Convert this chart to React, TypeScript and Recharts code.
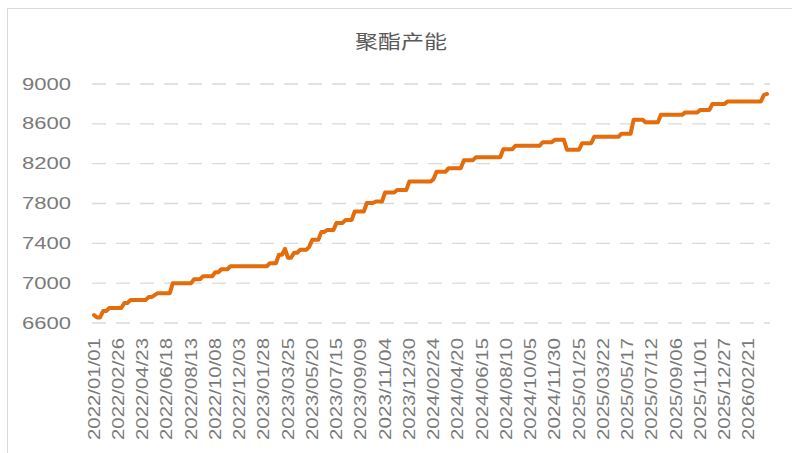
import React from "react";
import { LineChart, Line, XAxis, YAxis, CartesianGrid } from "recharts";

// Weekly polyester capacity (start 2022/01/01, one point per week)
const cap2022 = [
  6680, 6655, 6655, 6720, 6720, 6750, 6750, 6750, 6750, 6750,
  6800, 6800, 6830, 6830, 6830, 6830, 6830, 6830, 6860, 6860,
  6880, 6900, 6900, 6900, 6900, 6900, 7000, 7000, 7000, 7000,
  7000, 7000, 7000, 7040, 7040, 7040, 7070, 7070, 7070, 7070,
  7110, 7110, 7140, 7140, 7140, 7170, 7170, 7170, 7170, 7170,
  7170, 7170, 7170,
];
const cap2023 = [
  7170, 7170, 7170, 7170, 7170, 7200, 7200, 7200, 7285, 7285,
  7345, 7255, 7255, 7305, 7305, 7335, 7335, 7335, 7365, 7435,
  7435, 7435, 7515, 7515, 7535, 7535, 7535, 7605, 7605, 7605,
  7635, 7635, 7635, 7720, 7720, 7720, 7720, 7805, 7805, 7805,
  7820, 7820, 7820, 7910, 7910, 7910, 7910, 7935, 7935, 7935,
  7935, 8020,
];
const cap2024 = [
  8020, 8020, 8020, 8020, 8020, 8020, 8020, 8045, 8120, 8120,
  8120, 8120, 8155, 8155, 8155, 8155, 8155, 8235, 8235, 8235,
  8235, 8265, 8265, 8265, 8265, 8265, 8265, 8265, 8265, 8265,
  8345, 8345, 8345, 8345, 8380, 8380, 8380, 8380, 8380, 8380,
  8380, 8380, 8380, 8415, 8415, 8415, 8415, 8440, 8440, 8440,
  8440, 8340,
];
const cap2025 = [
  8340, 8340, 8340, 8340, 8405, 8405, 8405, 8405, 8470, 8470,
  8470, 8470, 8470, 8470, 8470, 8470, 8470, 8500, 8500, 8500,
  8500, 8640, 8640, 8640, 8640, 8615, 8615, 8615, 8615, 8615,
  8690, 8690, 8690, 8690, 8690, 8690, 8690, 8690, 8715, 8715,
  8715, 8715, 8715, 8740, 8740, 8740, 8740, 8800, 8800, 8800,
  8800, 8800,
];
const cap2026 = [
  8825, 8825, 8825, 8825, 8825, 8825, 8825, 8825, 8825, 8825,
  8825, 8825, 8890, 8900,
];

const yTicks = [6600, 7000, 7400, 7800, 8200, 8600, 9000];
const TITLE = "聚酯产能";

const values = [...cap2022, ...cap2023, ...cap2024, ...cap2025, ...cap2026];

const pad = (n: number) => String(n).padStart(2, "0");
const start = Date.UTC(2022, 0, 1);
const data = values.map((v, i) => {
  const d = new Date(start + i * 7 * 86400000);
  return {
    date: `${d.getUTCFullYear()}/${pad(d.getUTCMonth() + 1)}/${pad(d.getUTCDate())}`,
    cap: v,
  };
});

const FONT = '"Liberation Sans", Arial, "Noto Sans CJK SC", sans-serif';
const GREY = "#595959";
const LABEL = "#7a7a7a";

function YTick(props: any) {
  const { y, payload } = props;
  return (
    <text x={71} y={y} textAnchor="end" dominantBaseline="central" fontSize={16}
      fill={LABEL} fontFamily={FONT} textLength={49} lengthAdjust="spacingAndGlyphs">
      {payload.value}
    </text>
  );
}

function XTick(props: any) {
  const { x, payload } = props;
  const top = 338;
  return (
    <text x={x} y={top} transform={`rotate(-90 ${x} ${top})`} textAnchor="end"
      dominantBaseline="central" fontSize={16} fill={LABEL} fontFamily={FONT}
      textLength={102} lengthAdjust="spacingAndGlyphs">
      {payload.value}
    </text>
  );
}

export default function App() {
  return (
    <div style={{ position: "fixed", left: 0, top: 0, width: 792, height: 453, background: "#fff", overflow: "hidden" }}>
      <div style={{ position: "absolute", left: 7, top: 8, width: 820, height: 480, borderLeft: "1px solid #d9d9d9", borderTop: "1px solid #d9d9d9" }} />
      <svg style={{ position: "absolute", left: 0, top: 0 }} width={792} height={60}>
        <text x={401} y={40} textAnchor="middle" dominantBaseline="central" fontSize={19}
          fill={GREY} fontFamily='"Noto Sans CJK SC", sans-serif' textLength={92} lengthAdjust="spacingAndGlyphs">
          {TITLE}
        </text>
      </svg>
      <div style={{ position: "absolute", left: 0, top: 0 }}>
        <LineChart width={792} height={453} data={data} margin={{ top: 84, right: 22, bottom: 0, left: 0 }}>
          <CartesianGrid vertical={false} stroke="#d9d9d9" strokeWidth={1.3} strokeDasharray="14 10" />
          <XAxis dataKey="date" height={130} interval={7} axisLine={false} tickLine={false}
            tick={<XTick />} padding={{ left: 2, right: 3 }} />
          <YAxis width={92} domain={[6600, 9000]} ticks={yTicks} axisLine={false} tickLine={false}
            tick={<YTick />} />
          <Line type="linear" dataKey="cap" stroke="#E46C0A" strokeWidth={4} dot={false}
            strokeLinecap="round" strokeLinejoin="round" isAnimationActive={false} />
        </LineChart>
      </div>
    </div>
  );
}
